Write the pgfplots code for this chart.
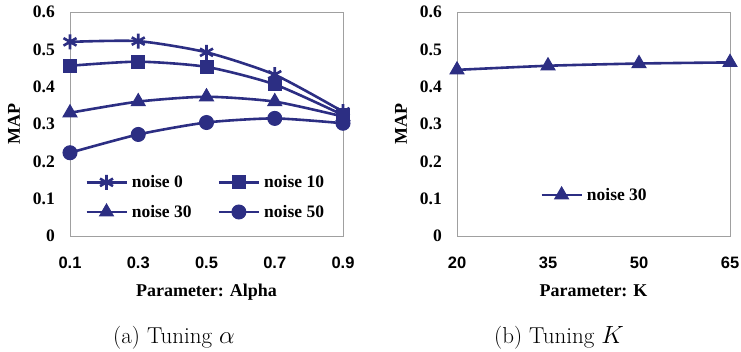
\documentclass[border=0pt]{standalone}
\usepackage{pgfplots}
\pgfplotsset{compat=1.18}
\usepackage{fontspec}
\newfontfamily\timesb{Liberation Serif}
\newfontfamily\arialb{Liberation Sans}
\definecolor{navy}{RGB}{44,46,131}
\definecolor{frame}{RGB}{160,160,160}
\begin{document}
\begin{tikzpicture}
\useasboundingbox (0pt,0pt) rectangle (741pt,351pt);
\pgfplotsset{
  every axis/.append style={
    scale only axis, width=273pt, height=224pt,
    ymin=0, ymax=0.6, ytick={0,0.1,...,0.6},
    yticklabels={0,0.1,0.2,0.3,0.4,0.5,0.6},
    axis line style={frame, line width=0.8pt},
    major tick length=0pt,
    yticklabel style={font=\fontsize{17.5}{17.5}\timesb\bfseries, anchor=east, inner sep=0pt, xshift=-15pt},
    xticklabel style={font=\fontsize{16.5}{16.5}\arialb\bfseries, anchor=base, inner sep=0pt, yshift=-32pt},
    xlabel style={font=\fontsize{18}{18}\timesb\bfseries, at={(axis description cs:0.5,0)}, anchor=base, inner sep=0pt, yshift=-60pt},
    ylabel style={font=\fontsize{18}{18}\timesb\bfseries, at={(axis description cs:-0.205,0.5)}, anchor=center, inner sep=0pt},
    clip=false,
    legend style={draw=none, fill=none, font=\fontsize{17.5}{17.5}\timesb\bfseries, inner sep=0pt, row sep=12pt, column sep=2pt},
    legend image code/.code={\draw[#1, mark repeat=2, mark phase=2] plot coordinates {(0pt,0pt) (20pt,0pt) (40pt,0pt)};},
  },
  ser/.style={color=navy, line width=2.6pt, mark options={solid, line width=1pt}},
}
\begin{axis}[at={(70pt,115pt)}, anchor=south west,
  xmin=0.1, xmax=0.9, xtick={0.1,0.3,0.5,0.7,0.9},
  xticklabels={0.1,0.3,0.5,0.7,0.9},
  xlabel={Parameter: Alpha}, ylabel={MAP},
  legend columns=2,
  legend style={at={(axis cs:0.144,0.104)}, anchor=west, /tikz/column 2/.style={column sep=24pt}},
  legend cell align=left,
]
\addplot[ser, smooth, tension=0.4, mark=asterisk, mark size=7.5pt, mark options={line width=2.6pt}] coordinates {(0.1,0.520) (0.3,0.522) (0.5,0.492) (0.7,0.432) (0.9,0.333)};
\addlegendentry{noise 0}
\addplot[ser, smooth, tension=0.4, mark=square*, mark size=6.5pt] coordinates {(0.1,0.456) (0.3,0.467) (0.5,0.453) (0.7,0.406) (0.9,0.324)};
\addlegendentry{noise 10}
\addplot[ser, smooth, tension=0.4, mark=triangle*, mark size=8pt] coordinates {(0.1,0.330) (0.3,0.360) (0.5,0.373) (0.7,0.360) (0.9,0.320)};
\addlegendentry{noise 30}
\addplot[ser, smooth, tension=0.4, mark=*, mark size=7pt] coordinates {(0.1,0.223) (0.3,0.272) (0.5,0.304) (0.7,0.315) (0.9,0.302)};
\addlegendentry{noise 50}
\end{axis}
\begin{axis}[at={(457pt,115pt)}, anchor=south west,
  xmin=20, xmax=65, xtick={20,35,50,65}, xticklabels={20,35,50,65},
  xlabel={Parameter: K}, ylabel={MAP},
  legend style={at={(axis cs:33.7,0.11)}, anchor=west},
]
\addplot[ser, smooth, tension=0.4, mark=triangle*, mark size=8pt] coordinates {(20,0.445) (35,0.456) (50,0.462) (65,0.465)};
\addlegendentry{noise 30}
\end{axis}
\node[font=\fontsize{23}{23}\selectfont, anchor=base, inner sep=0pt] at (174pt,8pt) {(a) Tuning $\alpha$};
\node[font=\fontsize{23}{23}\selectfont, anchor=base, inner sep=0pt] at (559pt,8pt) {(b) Tuning $K$};
\end{tikzpicture}
\end{document}
